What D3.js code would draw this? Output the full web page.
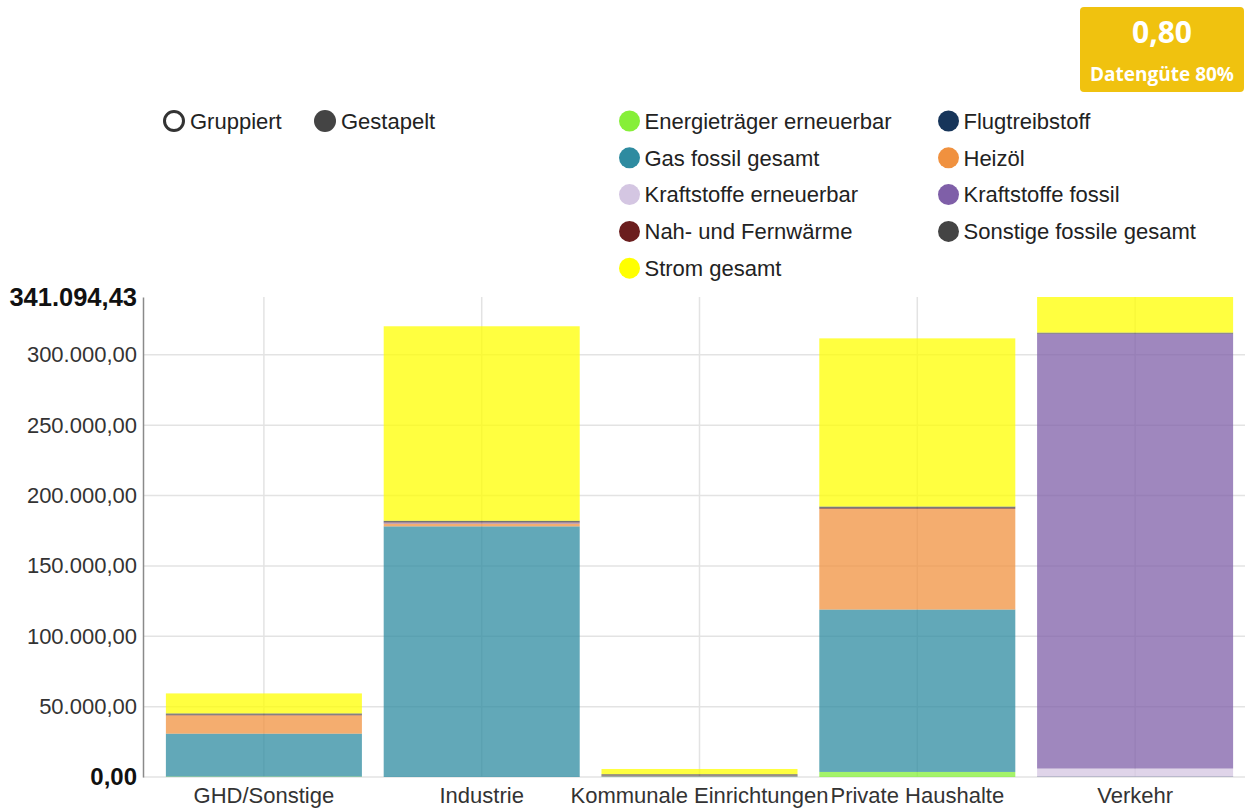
<!DOCTYPE html>
<html>
<head>
<meta charset="utf-8">
<script src="https://cdn.jsdelivr.net/npm/d3@7"></script>
<style>
  html, body { margin: 0; padding: 0; background: #fff; }
  svg { display: block; font-family: "Liberation Sans", Arial, sans-serif; }
</style>
</head>
<body>
<svg id="chart" width="1245" height="811"></svg>
<script>
// Sectors on the x axis
const categories = ["GHD/Sonstige", "Industrie", "Kommunale Einrichtungen", "Private Haushalte", "Verkehr"];

// Energy carriers (stack order, bottom to top)
const seriesNames = [
  "Energieträger erneuerbar", "Flugtreibstoff", "Gas fossil gesamt", "Heizöl",
  "Kraftstoffe erneuerbar", "Kraftstoffe fossil", "Nah- und Fernwärme",
  "Sonstige fossile gesamt", "Strom gesamt"
];
const seriesColors = [
  "#86ef38", "#17355a", "#2e8ba0", "#f0913f",
  "#d4c6e2", "#7f5fa8", "#6b1e1e", "#444444", "#ffff00"
];

// Values per carrier, one entry per sector (same order as categories)
const energieErneuerbar   = [300, 0, 0, 3600, 0];
const flugtreibstoff      = [0, 0, 0, 0, 300];
const gasFossil           = [30500, 178100, 500, 115400, 0];
const heizoel             = [13000, 2000, 300, 71600, 0];
const kraftstoffeErneuer  = [0, 0, 0, 0, 5700];
const kraftstoffeFossil   = [0, 700, 0, 0, 309000];
const nahFernwaerme       = [400, 300, 300, 600, 0];
const sonstigeFossil      = [1000, 1000, 900, 1000, 800];
const stromGesamt         = [14200, 138200, 3700, 119500, 25294.43];

const seriesValues = [
  energieErneuerbar, flugtreibstoff, gasFossil, heizoel,
  kraftstoffeErneuer, kraftstoffeFossil, nahFernwaerme, sonstigeFossil, stromGesamt
];

// Regular y ticks
const yTicks = [0, 50000, 100000, 150000, 200000, 250000, 300000];

// Quality badge
const badgeValue = "0,80";
const badgeLabel = "Datengüte 80%";

const de = d3.formatLocale({ decimal: ",", thousands: ".", grouping: [3], currency: ["", " €"] });
const fmt = de.format(",.2f");

const rows = categories.map((c, i) => {
  const r = { category: c };
  seriesNames.forEach((s, j) => { r[s] = seriesValues[j][i]; });
  return r;
});
const stacked = d3.stack().keys(seriesNames)(rows);
const yMax = d3.max(rows, r => d3.sum(seriesNames, s => r[s]));

const svg = d3.select("#chart");

const x = d3.scaleBand().domain(categories).range([155, 1244]).paddingInner(0.1).paddingOuter(0.05);
const y = d3.scaleLinear().domain([0, yMax]).range([777, 297]);

// Grid
const grid = svg.append("g");
grid.selectAll("line.h").data(yTicks).join("line")
  .attr("x1", 143).attr("x2", 1245)
  .attr("y1", d => y(d)).attr("y2", d => y(d))
  .attr("stroke", "#e3e3e3").attr("stroke-width", 1.5);
grid.selectAll("line.v").data(categories).join("line")
  .attr("x1", d => x(d) + x.bandwidth() / 2).attr("x2", d => x(d) + x.bandwidth() / 2)
  .attr("y1", y(yMax)).attr("y2", y(0))
  .attr("stroke", "#e3e3e3").attr("stroke-width", 1.5);

// Stacked bars
svg.append("g").selectAll("g").data(stacked).join("g")
  .attr("fill", (d, i) => seriesColors[i])
  .attr("fill-opacity", 0.75)
  .selectAll("rect").data(d => d).join("rect")
  .attr("x", d => x(d.data.category))
  .attr("width", x.bandwidth())
  .attr("y", d => y(d[1]))
  .attr("height", d => Math.max(0, y(d[0]) - y(d[1])));

// Y axis
const yAxis = d3.axisLeft(y).tickValues(yTicks.concat([yMax])).tickSize(0).tickPadding(6).tickFormat(fmt);
const ya = svg.append("g").attr("transform", "translate(143,0)").call(yAxis);
ya.select(".domain").attr("stroke", "#8a8a8a").attr("stroke-width", 1.5);
ya.selectAll(".tick text")
  .attr("font-family", "'Liberation Sans', Arial, sans-serif")
  .attr("font-size", d => d === yMax ? 25.5 : (d === 0 ? 24 : 22))
  .attr("font-weight", d => (d === 0 || d === yMax) ? "bold" : "normal")
  .attr("fill", d => (d === 0 || d === yMax) ? "#111" : "#333");

// X axis labels
const xAxis = d3.axisBottom(x).tickSize(0).tickPadding(10);
const xa = svg.append("g").attr("transform", "translate(0,777)").call(xAxis);
xa.select(".domain").remove();
xa.selectAll(".tick text")
  .attr("font-family", "'Liberation Sans', Arial, sans-serif")
  .attr("font-size", 22).attr("fill", "#333");

// Mode switch (grouped / stacked)
const mode = svg.append("g");
mode.append("circle").attr("cx", 174).attr("cy", 121).attr("r", 9.5)
  .attr("fill", "#fff").attr("stroke", "#333").attr("stroke-width", 3);
mode.append("text").attr("x", 190).attr("y", 121).attr("dy", "0.35em")
  .attr("font-size", 22).attr("fill", "#222").text("Gruppiert");
mode.append("circle").attr("cx", 325).attr("cy", 121).attr("r", 11).attr("fill", "#444");
mode.append("text").attr("x", 341).attr("y", 121).attr("dy", "0.35em")
  .attr("font-size", 22).attr("fill", "#222").text("Gestapelt");

// Legend
const legend = svg.append("g");
const lg = legend.selectAll("g").data(seriesNames).join("g")
  .attr("transform", (d, i) => `translate(${i % 2 === 0 ? 629.5 : 948.5},${121 + Math.floor(i / 2) * 36.8})`);
lg.append("circle").attr("r", 10.5).attr("fill", (d, i) => seriesColors[i]);
lg.append("text").attr("x", 15).attr("dy", "0.35em")
  .attr("font-size", 22).attr("fill", "#222").text(d => d);

// Quality badge
const badge = svg.append("g");
badge.append("rect").attr("x", 1080).attr("y", 7).attr("width", 164).attr("height", 85)
  .attr("rx", 4).attr("fill", "#f0c20f");
badge.append("text").attr("x", 1162).attr("y", 43).attr("text-anchor", "middle")
  .attr("font-family", "'Open Sans', sans-serif").attr("font-weight", "bold")
  .attr("font-size", 30).attr("fill", "#fff").text(badgeValue);
badge.append("text").attr("x", 1162).attr("y", 81).attr("text-anchor", "middle")
  .attr("font-family", "'Open Sans', sans-serif").attr("font-weight", "bold")
  .attr("font-size", 19).attr("fill", "#fff").text(badgeLabel);
</script>
</body>
</html>
